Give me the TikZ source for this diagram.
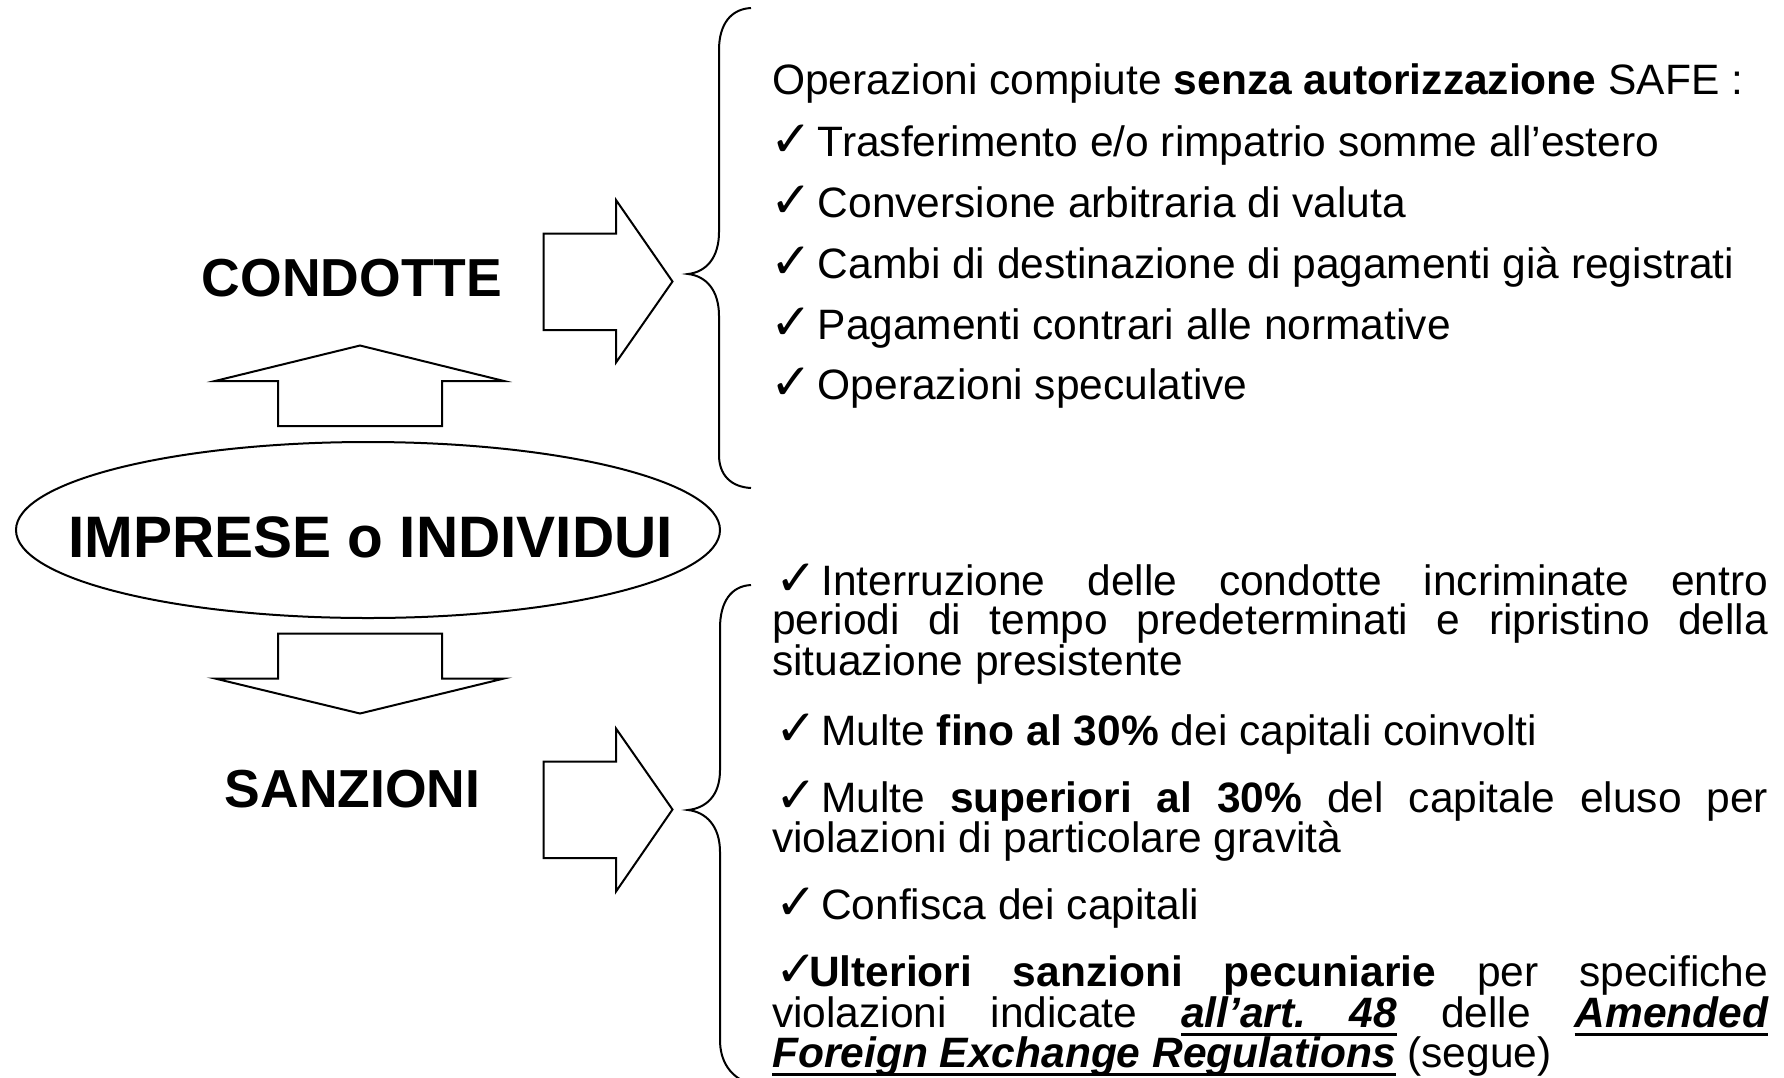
\documentclass[tikz,border=0pt]{standalone}
\usepackage{fontspec}
\setmainfont{Liberation Sans}
\newfontfamily\dv{DejaVu Sans}
\usetikzlibrary{shapes.geometric}
\newcommand\ckglyph{{\dv\fontsize{50}{50}\selectfont ✓}}
\newcommand\tck{\makebox[45.5pt][l]{\hspace{-1.5pt}\ckglyph}}
\newcommand\bck{\makebox[49pt][l]{\hspace{3pt}\ckglyph}}
\newcommand\uck{\makebox[37pt][l]{\hspace{3pt}\ckglyph}}
\newcommand\jl[2]{\makebox[#1pt][s]{#2}}
\newsavebox\ulbox
\newcommand\ulw[1]{\sbox\ulbox{#1}\rlap{\vrule height -5.5pt depth 8.5pt width\wd\ulbox}\usebox\ulbox}
\newcommand\ulsp{\leaders\vrule height -5.5pt depth 8.5pt\hskip\fontdimen2\font plus\fontdimen3\font minus\fontdimen4\font\relax}
\begin{document}
\begin{tikzpicture}[x=1pt,y=-1pt,
  shp/.style={draw=black, line width=2pt, line join=miter},
  txt/.style={anchor=base west, inner sep=0pt, font=\fontsize{42.5}{42.5}\selectfont},
  big/.style={anchor=base, inner sep=0pt, font=\bfseries\fontsize{53.5}{53.5}\selectfont}]
\useasboundingbox (0,0) rectangle (1784,1077);
\clip (0,0) rectangle (1784,1077);
% ellipse and labels
\node[shp, ellipse, minimum width=704pt, minimum height=176pt, inner sep=0pt] (ell) at (368,530) {};
\node[anchor=base, inner sep=0pt, font=\bfseries\fontsize{58.5}{58.5}\selectfont] (imp) at (370.5,557) {IMPRESE o INDIVIDUI};
\node[big] (cond) at (352,296) {CONDOTTE};
\node[big] (sanz) at (352.5,807.5) {SANZIONI};
% block arrows
\draw[shp] (360,345.5) -- (504,381) -- (442,381) -- (442,426) -- (278,426) -- (278,381) -- (215,381) -- cycle;
\draw[shp] (360,713.5) -- (504,678.5) -- (442,678.5) -- (442,633.5) -- (278,633.5) -- (278,678.5) -- (215,678.5) -- cycle;
\draw[shp] (543.5,233.5) -- (616,233.5) -- (616,200) -- (672.5,281.5) -- (616,362.5) -- (616,330) -- (543.5,330) -- cycle;
\draw[shp] (543.5,761.5) -- (616,761.5) -- (616,728.5) -- (672.5,809.5) -- (616,891.5) -- (616,858) -- (543.5,858) -- cycle;
% braces
\draw[shp] (751,8) .. controls (731,9) and (719,24) .. (719,50) -- (719,232)
  .. controls (719,258) and (706,272) .. (688,274)
  .. controls (706,276) and (719,290) .. (719,316) -- (719,455)
  .. controls (719,475) and (731,487) .. (751,488);
\draw[shp] (751,585) .. controls (731,586) and (720,602) .. (720,628) -- (720,770)
  .. controls (720,796) and (706,808) .. (688,810)
  .. controls (706,812) and (720,826) .. (720,852) -- (720,1040)
  .. controls (720,1062) and (731,1078) .. (751,1084);
% top list
\node[txt] (t0) at (772,94) {Operazioni compiute \textbf{senza autorizzazione} SAFE :};
\node[txt] (t1) at (772,156) {\tck Trasferimento e/o rimpatrio somme all’estero};
\node[txt] (t2) at (772,217) {\tck Conversione arbitraria di valuta};
\node[txt] (t3) at (772,278) {\tck Cambi di destinazione di pagamenti già registrati};
\node[txt] (t4) at (772,339) {\tck Pagamenti contrari alle normative};
\node[txt] (t5) at (772,399) {\tck Operazioni speculative};
% bottom list
\node[txt] (b1) at (772,595) {\bck\jl{947}{Interruzione delle condotte incriminate entro}};
\node[txt] (b2) at (772,634) {\jl{996}{periodi di tempo predeterminati e ripristino della}};
\node[txt] (b3) at (772,675) {situazione presistente};
\node[txt] (b4) at (772,745) {\bck Multe \textbf{fino al 30\%} dei capitali coinvolti};
\node[txt] (b5) at (772,812) {\bck\jl{947}{Multe \textbf{superiori al 30\%} del capitale eluso per}};
\node[txt] (b6) at (772,852) {violazioni di particolare gravità};
\node[txt] (b7) at (772,919) {\bck Confisca dei capitali};
\node[txt] (b8) at (772,986) {\uck\jl{959}{\textbf{Ulteriori sanzioni pecuniarie} per specifiche}};
\node[txt] (b9) at (772,1027) {\jl{996}{violazioni indicate {\bfseries\itshape\ulw{all’art.}\ulsp\ulw{48}} delle {\bfseries\itshape\ulw{Amended}}}};
\node[txt] (b10) at (772,1067) {{\bfseries\itshape\ulw{Foreign Exchange Regulations}} (segue)};
\end{tikzpicture}
\end{document}
